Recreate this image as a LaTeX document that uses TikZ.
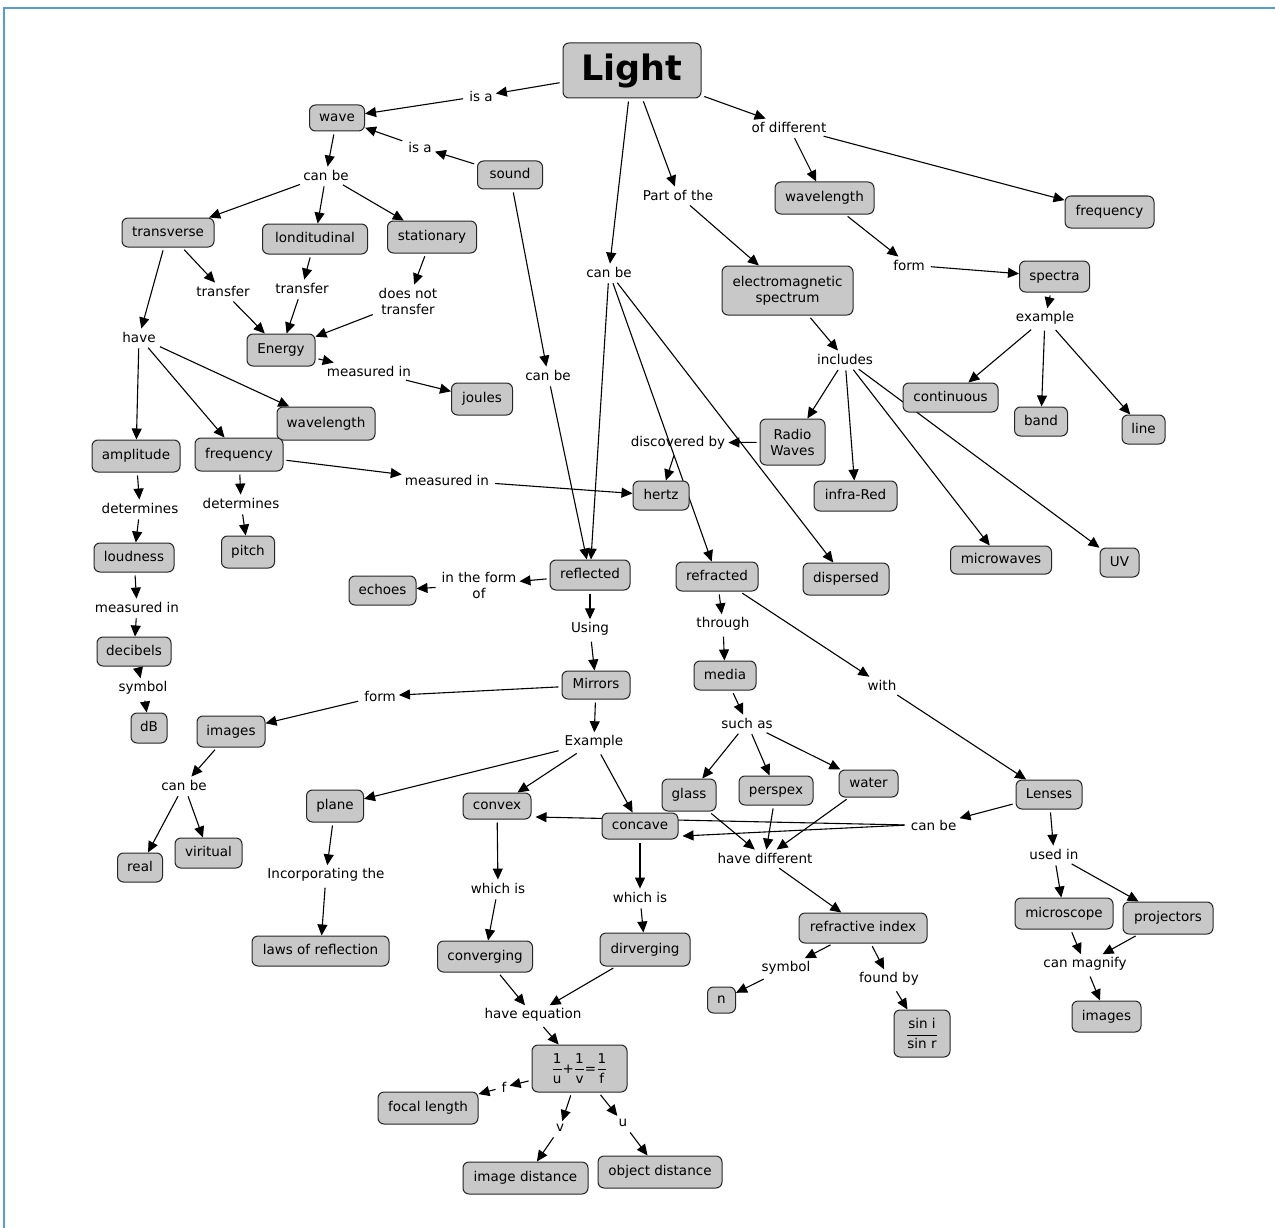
\documentclass[tikz,border=0pt]{standalone}
\usepackage{amsmath}
\usepackage{fontspec}
\setmainfont{DejaVu Sans}
\usetikzlibrary{arrows.meta}
\pgfdeclarelayer{bg}
\pgfsetlayers{bg,main}
\definecolor{cfill}{RGB}{200,200,200}
\definecolor{frameblue}{RGB}{91,155,213}
\begin{document}
\begin{tikzpicture}[x=1pt,y=-1pt,
  box/.style={draw=black!85,fill=cfill,rounded corners=6pt,line width=1pt,inner sep=2pt,font=\fontsize{13.5}{16}\selectfont},
  concept/.style={box,text height=10pt,text depth=3pt},
  link/.style={inner sep=3pt,font=\fontsize{13.5}{16}\selectfont,align=center},
  arr/.style={-{Triangle[length=11pt,width=10pt]},line width=1.1pt,shorten <=3pt}]
\useasboundingbox (0,0) rectangle (1275,1228);

% ---------- concepts ----------
\node[box,font=\fontsize{35}{40}\selectfont\bfseries,minimum width=138pt,minimum height=55pt] (light) at (632,70.5) {Light};
\node[concept,minimum width=55pt,minimum height=26pt] (wave) at (337,118) {wave};
\node[concept,minimum width=65pt,minimum height=28pt] (sound) at (510,175) {sound};
\node[concept,minimum width=92pt,minimum height=29pt] (transverse) at (168,232.5) {transverse};
\node[concept,minimum width=105pt,minimum height=30pt] (londitudinal) at (315,239) {londitudinal};
\node[concept,minimum width=89pt,minimum height=32pt] (stationary) at (432,237) {stationary};
\node[concept,minimum width=68pt,minimum height=32pt] (energy) at (281,350) {Energy};
\node[concept,minimum width=61pt,minimum height=32pt] (joules) at (482,399) {joules};
\node[concept,minimum width=98pt,minimum height=33pt] (wavelengthL) at (326,423.5) {wavelength};
\node[concept,minimum width=88pt,minimum height=32pt] (amplitude) at (136,456) {amplitude};
\node[concept,minimum width=88pt,minimum height=33pt] (frequencyL) at (239,454.5) {frequency};
\node[concept,minimum width=80pt,minimum height=29pt] (loudness) at (134,557.5) {loudness};
\node[concept,minimum width=53pt,minimum height=32pt] (pitch) at (248,552) {pitch};
\node[concept,minimum width=74pt,minimum height=29pt] (decibels) at (134,651.5) {decibels};
\node[concept,minimum width=36pt,minimum height=30pt] (dB) at (149,728) {dB};
\node[concept,minimum width=68pt,minimum height=31pt] (imagesL) at (231,731.5) {images};
\node[concept,minimum width=45pt,minimum height=29pt] (real) at (140,867.5) {real};
\node[concept,minimum width=67pt,minimum height=30pt] (viritual) at (208.5,853) {viritual};
\node[concept,minimum width=67pt,minimum height=29pt] (echoes) at (382.5,590.5) {echoes};
\node[concept,minimum width=80pt,minimum height=30pt] (reflected) at (590,575) {reflected};
\node[concept,minimum width=68pt,minimum height=28pt] (mirrors) at (596,685) {Mirrors};
\node[concept,minimum width=57pt,minimum height=32pt] (plane) at (335,806) {plane};
\node[concept,minimum width=68pt,minimum height=26pt] (convex) at (497,806) {convex};
\node[concept,minimum width=76pt,minimum height=26pt] (concave) at (640,826) {concave};
\node[concept,minimum width=137pt,minimum height=30pt] (laws) at (320.5,951) {laws of reflection};
\node[concept,minimum width=95pt,minimum height=31pt] (converging) at (485,956.5) {converging};
\node[concept,minimum width=90pt,minimum height=33pt] (dirverging) at (645,949.5) {dirverging};
\node[box,minimum width=95pt,minimum height=47pt] (formula) at (579.5,1068.5) {$\dfrac{\text{1}}{\text{u}}\text{+}\dfrac{\text{1}}{\text{v}}\text{=}\dfrac{\text{1}}{\text{f}}$};
\node[concept,minimum width=100pt,minimum height=32pt] (focal) at (428,1108) {focal length};
\node[concept,minimum width=125pt,minimum height=32pt] (imagedist) at (525.5,1178) {image distance};
\node[concept,minimum width=124pt,minimum height=32pt] (objectdist) at (660,1172) {object distance};
\node[concept,minimum width=56pt,minimum height=29pt] (hertz) at (661,495.5) {hertz};
\node[concept,minimum width=82pt,minimum height=29pt] (refracted) at (717,576.5) {refracted};
\node[concept,minimum width=86pt,minimum height=32pt] (dispersed) at (846,579) {dispersed};
\node[box,align=center,minimum width=131pt,minimum height=49pt] (em) at (787.5,290.5) {electromagnetic\\spectrum};
\node[concept,minimum width=99pt,minimum height=32pt] (wavelengthR) at (824.5,198) {wavelength};
\node[concept,minimum width=89pt,minimum height=32pt] (frequencyR) at (1109.5,212) {frequency};
\node[concept,minimum width=70pt,minimum height=31pt] (spectra) at (1054.5,276.5) {spectra};
\node[concept,minimum width=95pt,minimum height=29pt] (continuous) at (950.5,397.5) {continuous};
\node[concept,minimum width=53pt,minimum height=29pt] (band) at (1041,421.5) {band};
\node[concept,minimum width=43pt,minimum height=29pt] (lineN) at (1143.5,429.5) {line};
\node[box,align=center,minimum width=65pt,minimum height=46pt] (radio) at (792.5,442) {Radio\\Waves};
\node[concept,minimum width=83pt,minimum height=30pt] (infrared) at (855.5,496) {infra-Red};
\node[concept,minimum width=101pt,minimum height=28pt] (microwaves) at (1001,560) {microwaves};
\node[concept,minimum width=39pt,minimum height=29pt] (uv) at (1119.5,562.5) {UV};
\node[concept,minimum width=62pt,minimum height=29pt] (media) at (725,675.5) {media};
\node[concept,minimum width=54pt,minimum height=32pt] (glass) at (689,795) {glass};
\node[concept,minimum width=74pt,minimum height=29pt] (perspex) at (776,790.5) {perspex};
\node[concept,minimum width=59pt,minimum height=27pt] (water) at (868.5,783.5) {water};
\node[concept,minimum width=66pt,minimum height=29pt] (lenses) at (1049,794.5) {Lenses};
\node[concept,minimum width=128pt,minimum height=30pt] (refractive) at (863,928) {refractive index};
\node[concept,minimum width=28pt,minimum height=26pt] (n) at (721.5,1000) {n};
\node[box,minimum width=56pt,minimum height=47pt] (sin) at (922,1033.5) {$\dfrac{\text{sin i}}{\text{sin r}}$};
\node[concept,minimum width=98pt,minimum height=31pt] (microscope) at (1064,913.5) {microscope};
\node[concept,minimum width=90pt,minimum height=32pt] (projectors) at (1168,918) {projectors};
\node[concept,minimum width=69pt,minimum height=31pt] (imagesR) at (1106.5,1016.5) {images};

% ---------- linking phrases ----------
\node[link] (isa1) at (481,96) {is a};
\node[link] (isa2) at (420,147) {is a};
\node[link] (canbeW) at (326,175) {can be};
\node[link] (transfer1) at (223,291) {transfer};
\node[link] (transfer2) at (302,288) {transfer};
\node[link] (doesnot) at (408,301) {does not\\transfer};
\node[link] (have) at (139,337) {have};
\node[link] (measE) at (369,371) {measured in};
\node[link] (canbeS) at (548,375) {can be};
\node[link] (canbeL) at (609,272) {can be};
\node[link] (partof) at (678,195) {Part of the};
\node[link] (ofdiff) at (789,127) {of different};
\node[link] (formS) at (909,265) {form};
\node[link] (exampleS) at (1045,318) {example};
\node[link] (includes) at (845,359) {includes};
\node[link] (discovered) at (678,443) {discovered by};
\node[link] (measF) at (447,480) {measured in};
\node[link] (detA) at (140,508) {determines};
\node[link] (detF) at (241,503) {determines};
\node[link] (measL) at (137,607) {measured in};
\node[link] (symbolD) at (143,688) {symbol};
\node[link] (inform) at (479,585) {in the form\\of};
\node[link] (using) at (590,629) {Using};
\node[link] (formM) at (380,696) {form};
\node[link] (canbeI) at (184,785) {can be};
\node[link] (exampleM) at (594,742) {Example};
\node[link] (incorp) at (326,875) {Incorporating the};
\node[link] (whichV) at (498,888) {which is};
\node[link] (whichC) at (640,897) {which is};
\node[link] (haveeq) at (533,1015) {have equation};
\node[link] (fL) at (504,1087) {f};
\node[link] (vL) at (560,1128) {v};
\node[link] (uL) at (623,1123) {u};
\node[link] (through) at (723,624) {through};
\node[link] (suchas) at (747,723) {such as};
\node[link] (with) at (882,685) {with};
\node[link] (havediff) at (765,858) {have different};
\node[link] (canbeLe) at (933.6,825) {can be};
\node[link] (symbolN) at (786,968) {symbol};
\node[link] (foundby) at (889,979) {found by};
\node[link] (usedin) at (1054,854) {used in};
\node[link] (canmag) at (1085,964) {can magnify};

% ---------- connectors & frame ----------
\begin{pgfonlayer}{bg}
\fill[white] (0,0) rectangle (1275,1228);
\draw[frameblue,line width=2pt] (4,1228) -- (4,8) -- (1275,8);
\draw[arr] (light) -- (isa1);
\draw[arr] (isa1) -- (wave);
\draw[arr] (sound) -- (isa2);
\draw[arr] (isa2) -- (wave);
\draw[arr] (wave) -- (canbeW);
\draw[arr] (canbeW) -- (transverse);
\draw[arr] (canbeW) -- (londitudinal);
\draw[arr] (canbeW) -- (stationary);
\draw[arr] (transverse) -- (have);
\draw[arr] (have) -- (amplitude);
\draw[arr] (have) -- (frequencyL);
\draw[arr] (have) -- (wavelengthL);
\draw[arr] (transverse) -- (transfer1);
\draw[arr] (transfer1) -- (energy);
\draw[arr] (londitudinal) -- (transfer2);
\draw[arr] (transfer2) -- (energy);
\draw[arr] (stationary) -- (doesnot);
\draw[arr] (doesnot) -- (energy);
\draw[arr] (energy) -- (measE);
\draw[arr] (measE) -- (joules);
\draw[arr] (sound) -- (canbeS);
\draw[arr] (canbeS) -- (reflected);
\draw[arr] (light) -- (canbeL);
\draw[arr] (canbeL) -- (reflected);
\draw[arr] (canbeL) -- (refracted);
\draw[arr] (canbeL) -- (dispersed);
\draw[arr] (light) -- (partof);
\draw[arr] (partof) -- (em);
\draw[arr] (light) -- (ofdiff);
\draw[arr] (ofdiff) -- (wavelengthR);
\draw[arr] (ofdiff) -- (frequencyR);
\draw[arr] (wavelengthR) -- (formS);
\draw[arr] (formS) -- (spectra);
\draw[arr] (spectra) -- (exampleS);
\draw[arr] (exampleS) -- (continuous);
\draw[arr] (exampleS) -- (band);
\draw[arr] (exampleS) -- (lineN);
\draw[arr] (em) -- (includes);
\draw[arr] (includes) -- (radio);
\draw[arr] (includes) -- (infrared);
\draw[arr] (includes) -- (microwaves);
\draw[arr] (includes) -- (uv);
\draw[arr] (radio) -- (discovered);
\draw[arr] (discovered) -- (hertz);
\draw[arr] (frequencyL) -- (measF);
\draw[arr] (measF) -- (hertz);
\draw[arr] (amplitude) -- (detA);
\draw[arr] (detA) -- (loudness);
\draw[arr] (frequencyL) -- (detF);
\draw[arr] (detF) -- (pitch);
\draw[arr] (loudness) -- (measL);
\draw[arr] (measL) -- (decibels);
\draw[arr] (decibels) -- (symbolD);
\draw[arr] (symbolD) -- (dB);
\draw[arr] (reflected) -- (inform);
\draw[arr] (inform) -- (echoes);
\draw[arr] (reflected) -- (using);
\draw[arr] (using) -- (mirrors);
\draw[arr] (mirrors) -- (formM);
\draw[arr] (formM) -- (imagesL);
\draw[arr] (imagesL) -- (canbeI);
\draw[arr] (canbeI) -- (real);
\draw[arr] (canbeI) -- (viritual);
\draw[arr] (mirrors) -- (exampleM);
\draw[arr] (exampleM) -- (plane);
\draw[arr] (exampleM) -- (convex);
\draw[arr] (exampleM) -- (concave);
\draw[arr] (plane) -- (incorp);
\draw[arr] (incorp) -- (laws);
\draw[arr] (convex) -- (whichV);
\draw[arr] (whichV) -- (converging);
\draw[arr] (concave) -- (whichC);
\draw[arr] (whichC) -- (dirverging);
\draw[arr] (converging) -- (haveeq);
\draw[arr] (dirverging) -- (haveeq);
\draw[arr] (haveeq) -- (formula);
\draw[arr] (formula) -- (fL);
\draw[arr] (fL) -- (focal);
\draw[arr] (formula) -- (vL);
\draw[arr] (vL) -- (imagedist);
\draw[arr] (formula) -- (uL);
\draw[arr] (uL) -- (objectdist);
\draw[arr] (refracted) -- (through);
\draw[arr] (through) -- (media);
\draw[arr] (media) -- (suchas);
\draw[arr] (suchas) -- (glass);
\draw[arr] (suchas) -- (perspex);
\draw[arr] (suchas) -- (water);
\draw[arr] (refracted) -- (with);
\draw[arr] (with) -- (lenses);
\draw[arr] (glass) -- (havediff);
\draw[arr] (perspex) -- (havediff);
\draw[arr] (water) -- (havediff);
\draw[arr] (havediff) -- (refractive);
\draw[arr] (lenses) -- (canbeLe);
\draw[arr] (canbeLe.west) -- ([xshift=4pt,yshift=-11pt]convex.east);
\draw[arr] (canbeLe.west) -- ([xshift=4pt,yshift=-10pt]concave.east);
\draw[arr] (refractive) -- (symbolN);
\draw[arr] (symbolN) -- (n);
\draw[arr] (refractive) -- (foundby);
\draw[arr] (foundby) -- (sin);
\draw[arr] (lenses) -- (usedin);
\draw[arr] (usedin) -- (microscope);
\draw[arr] (usedin) -- (projectors);
\draw[arr] (microscope) -- (canmag);
\draw[arr] (projectors) -- (canmag);
\draw[arr] (canmag) -- (imagesR);
\end{pgfonlayer}
\end{tikzpicture}
\end{document}
